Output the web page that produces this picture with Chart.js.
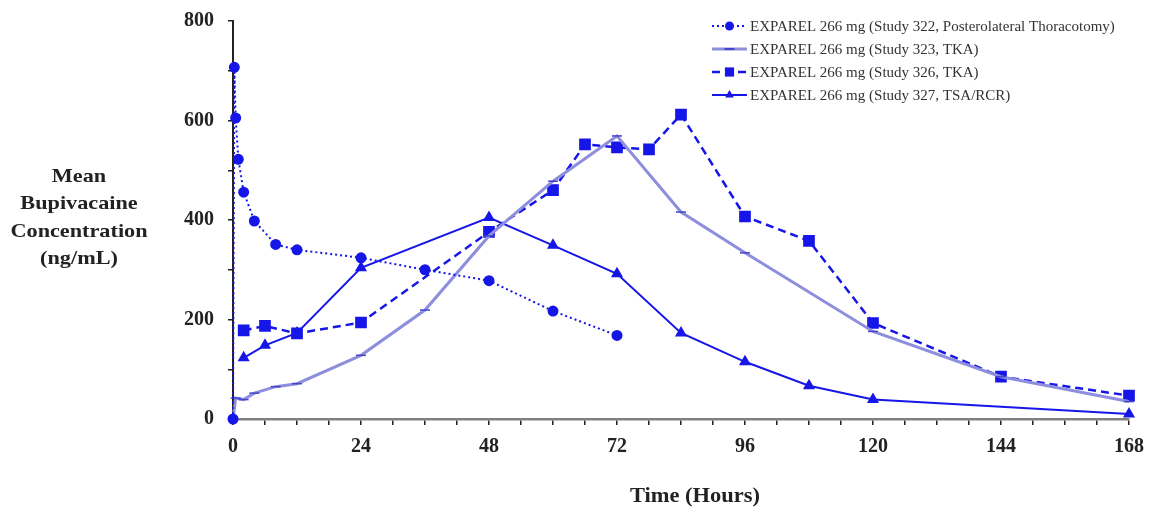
<!DOCTYPE html>
<html>
<head>
<meta charset="utf-8">
<script src="https://cdn.jsdelivr.net/npm/chart.js@4/dist/chart.umd.min.js"></script>
<style>
  html, body { margin: 0; padding: 0; background: #fff; }
  #wrap { width: 1152px; height: 513px; position: relative; }
</style>
</head>
<body>
<div id="wrap"><canvas id="pkChart" width="1152" height="513"></canvas></div>
<script>
// values
const hours322 = [0, 0.25, 0.5, 1, 2, 4, 8, 12, 24, 36, 48, 60, 72];
const conc322 = [0, 707, 605, 522, 456, 398, 351, 340, 324, 300, 278, 217, 168];

const hours323 = [0, 0.5, 2, 4, 8, 12, 24, 36, 48, 60, 72, 84, 96, 120, 144, 168];
const conc323 = [0, 42, 39, 52, 65, 71, 128, 219, 368, 478, 569, 416, 334, 176, 85, 35];

const hours326 = [2, 6, 12, 24, 48, 60, 66, 72, 78, 84, 96, 108, 120, 144, 168];
const conc326 = [178, 187, 172, 194, 376, 460, 552, 546, 542, 612, 407, 358, 193, 85, 47];

const hours327 = [2, 6, 12, 24, 48, 60, 72, 84, 96, 108, 120, 168];
const conc327 = [123, 148, 173, 304, 405, 349, 292, 173, 115, 67, 39, 10];

const seriesLabels = [
  'EXPAREL 266 mg (Study 322, Posterolateral Thoracotomy)',
  'EXPAREL 266 mg (Study 323, TKA)',
  'EXPAREL 266 mg (Study 326, TKA)',
  'EXPAREL 266 mg (Study 327, TSA/RCR)'
];
const yTitleLines = ['Mean', 'Bupivacaine', 'Concentration', '(ng/mL)'];
const xTitle = 'Time (Hours)';

const blue = '#1616e8';
const lavender = '#8e8ede';

function pairs(xs, ys) {
  return xs.map((x, i) => ({ x: x, y: ys[i] }));
}

function marker(ctx, style, r, x, y, color) {
  ctx.save();
  ctx.fillStyle = color;
  ctx.strokeStyle = color;
  ctx.setLineDash([]);
  ctx.beginPath();
  if (style === 'circle') {
    ctx.arc(x, y, r, 0, Math.PI * 2);
    ctx.fill();
  } else if (style === 'rect') {
    const s = r * Math.SQRT1_2;
    ctx.fillRect(x - s, y - s, 2 * s, 2 * s);
  } else if (style === 'triangle') {
    ctx.moveTo(x, y - r);
    ctx.lineTo(x + r * 0.87, y + r * 0.5);
    ctx.lineTo(x - r * 0.87, y + r * 0.5);
    ctx.closePath();
    ctx.fill();
  } else if (style === 'line') {
    ctx.lineWidth = 2;
    ctx.moveTo(x - r, y);
    ctx.lineTo(x + r, y);
    ctx.stroke();
  }
  ctx.restore();
}

// legend inside the plot (top right) and the two axis titles
const extras = {
  id: 'extras',
  afterDraw(chart) {
    const ctx = chart.ctx;
    ctx.save();
    chart.data.datasets.forEach((ds, i) => {
      const y = 26 + i * 23;
      ctx.save();
      ctx.strokeStyle = ds.borderColor;
      ctx.lineWidth = ds.borderWidth;
      ctx.setLineDash(ds.borderDash || []);
      ctx.beginPath();
      ctx.moveTo(712, y);
      ctx.lineTo(747, y);
      ctx.stroke();
      ctx.restore();
      marker(ctx, ds.pointStyle, ds.pointRadius, 729.5, y, ds.pointBackgroundColor);
      ctx.fillStyle = '#333';
      ctx.font = '15px "Liberation Serif"';
      ctx.textBaseline = 'middle';
      ctx.textAlign = 'left';
      ctx.fillText(ds.label, 750, y + 1);
    });

    ctx.fillStyle = '#222';
    ctx.font = 'bold 19px "Liberation Serif"';
    ctx.textAlign = 'center';
    ctx.textBaseline = 'middle';
    yTitleLines.forEach((line, i) => {
      ctx.save();
      ctx.translate(79, 177 + i * 27.5);
      ctx.scale(1.17, 1);
      ctx.fillText(line, 0, 0);
      ctx.restore();
    });

    ctx.font = 'bold 21px "Liberation Serif"';
    ctx.save();
    ctx.translate(695, 497);
    ctx.scale(1.07, 1);
    ctx.fillText(xTitle, 0, 0);
    ctx.restore();
    ctx.restore();
  }
};

const tickFont = { family: 'Liberation Serif', size: 20, weight: 'bold' };

new Chart(document.getElementById('pkChart').getContext('2d'), {
  type: 'line',
  data: {
    datasets: [
      {
        label: seriesLabels[0],
        data: pairs(hours322, conc322),
        borderColor: blue,
        borderWidth: 2,
        borderDash: [2, 3],
        pointStyle: 'circle',
        pointRadius: 4.5,
        pointBackgroundColor: blue,
        pointBorderColor: blue
      },
      {
        label: seriesLabels[1],
        data: pairs(hours323, conc323),
        borderColor: lavender,
        borderWidth: 3,
        pointStyle: 'line',
        pointRadius: 5,
        pointBorderWidth: 1.5,
        pointBackgroundColor: '#4444cc',
        pointBorderColor: '#4444cc'
      },
      {
        label: seriesLabels[2],
        data: pairs(hours326, conc326),
        borderColor: blue,
        borderWidth: 2.5,
        borderDash: [8, 5],
        pointStyle: 'rect',
        pointRadius: 6.5,
        pointBackgroundColor: blue,
        pointBorderColor: blue
      },
      {
        label: seriesLabels[3],
        data: pairs(hours327, conc327),
        borderColor: blue,
        borderWidth: 2,
        pointStyle: 'triangle',
        pointRadius: 5,
        pointBackgroundColor: blue,
        pointBorderColor: blue
      }
    ]
  },
  options: {
    responsive: false,
    animation: false,
    clip: false,
    layout: { padding: { top: 21, right: 23, left: 0, bottom: 0 } },
    elements: { line: { tension: 0, fill: false } },
    plugins: {
      legend: { display: false },
      tooltip: { enabled: false }
    },
    scales: {
      x: {
        type: 'linear',
        min: 0,
        max: 168,
        afterFit(scale) {
          scale.height = 94;
          scale.paddingLeft = 0;
          scale.paddingRight = 0;
        },
        border: { display: true, color: '#808080', width: 2.5 },
        grid: { drawOnChartArea: false, drawTicks: true, tickLength: 6, color: '#222', lineWidth: 1.5 },
        ticks: {
          stepSize: 6,
          autoSkip: false,
          maxRotation: 0,
          padding: 10,
          color: '#222',
          font: tickFont,
          callback: (v) => (v % 24 === 0 ? v : '')
        }
      },
      y: {
        min: 0,
        max: 800,
        afterFit(scale) {
          scale.width = 233;
          scale.paddingTop = 0;
          scale.paddingBottom = 0;
        },
        border: { display: true, color: '#222', width: 2 },
        grid: { drawOnChartArea: false, drawTicks: true, tickLength: 5, color: '#222', lineWidth: 1.5 },
        ticks: {
          stepSize: 100,
          autoSkip: false,
          padding: 14,
          color: '#222',
          font: tickFont,
          callback: (v) => (v % 200 === 0 ? v : '')
        }
      }
    }
  },
  plugins: [extras]
});
</script>
</body>
</html>
